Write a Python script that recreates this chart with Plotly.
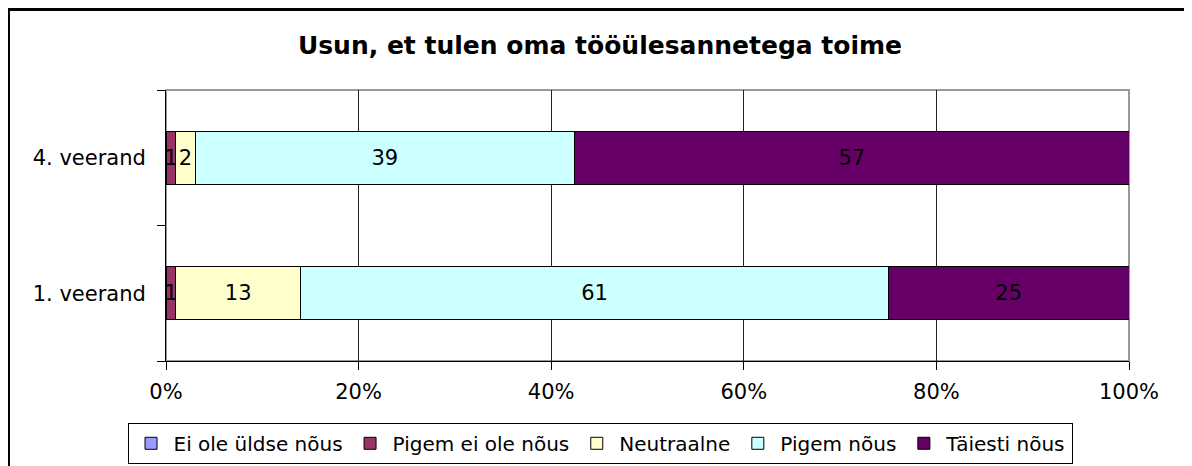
import plotly.graph_objects as go

title = "Usun, et tulen oma tööülesannetega toime"
quarters = ["1. veerand", "4. veerand"]
series_names = ["Ei ole üldse nõus", "Pigem ei ole nõus", "Neutraalne", "Pigem nõus", "Täiesti nõus"]
ei_ole_yldse = [0, 0]
pigem_ei_ole = [1, 1]
neutraalne = [13, 2]
pigem_nous = [61, 39]
taiesti_nous = [25, 57]
x_ticks = [0, 20, 40, 60, 80, 100]

colors = ["#9999FF", "#993366", "#FFFFCC", "#CCFFFF", "#660066"]
values = [ei_ole_yldse, pigem_ei_ole, neutraalne, pigem_nous, taiesti_nous]
font_family = "DejaVu Sans, Arial"

fig = go.Figure()
for name, vals, col in zip(series_names, values, colors):
    fig.add_trace(
        go.Bar(
            y=quarters,
            x=vals,
            name=name,
            orientation="h",
            marker=dict(color=col, line=dict(color="black", width=1)),
            text=[str(v) if v else "" for v in vals],
            textposition="inside",
            insidetextanchor="middle",
            constraintext="none",
            textfont=dict(color="black", size=21, family=font_family),
            hoverinfo="skip",
        )
    )

# the page body has an 8px margin, so the figure is sized to fit the window
fig.update_layout(
    width=1184,
    height=458,
    barmode="stack",
    barnorm="percent",
    bargap=0.61,
    plot_bgcolor="white",
    paper_bgcolor="white",
    font=dict(family=font_family, size=21, color="black"),
    margin=dict(l=158, r=63, t=82, b=105, autoexpand=False),
    title=dict(
        text="<b>" + title + "</b>",
        x=0.5,
        xanchor="center",
        y=0.919,
        yanchor="middle",
        font=dict(size=25),
    ),
    uniformtext=dict(minsize=21, mode="show"),
    legend=dict(
        orientation="h",
        x=0.4507,
        xanchor="center",
        y=-0.228,
        yanchor="top",
        bordercolor="black",
        borderwidth=1,
        font=dict(size=20),
        traceorder="normal",
        itemwidth=35,
    ),
    xaxis=dict(
        range=[0, 100],
        tickvals=x_ticks,
        ticktext=[f"{v}%" for v in x_ticks],
        showgrid=True,
        gridcolor="#222222",
        gridwidth=1,
        showline=True,
        linecolor="black",
        linewidth=1,
        ticks="outside",
        ticklen=8,
        tickcolor="black",
        zeroline=False,
        ticklabelstandoff=4,
    ),
    yaxis=dict(
        showgrid=False,
        showline=True,
        linecolor="black",
        linewidth=1,
        ticks="outside",
        tickson="boundaries",
        ticklen=8,
        tickcolor="black",
        ticklabelstandoff=15,
    ),
    shapes=[
        dict(
            type="rect", xref="paper", yref="paper",
            x0=0, x1=1, y0=0, y1=1,
            line=dict(color="#999999", width=2), layer="below",
        ),
        dict(
            type="rect", xref="paper", yref="paper",
            x0=-0.1636, x1=1.08, y0=-0.42, y1=1.297,
            line=dict(color="black", width=3), layer="above",
        ),
    ],
)

fig.write_html("out.html")
